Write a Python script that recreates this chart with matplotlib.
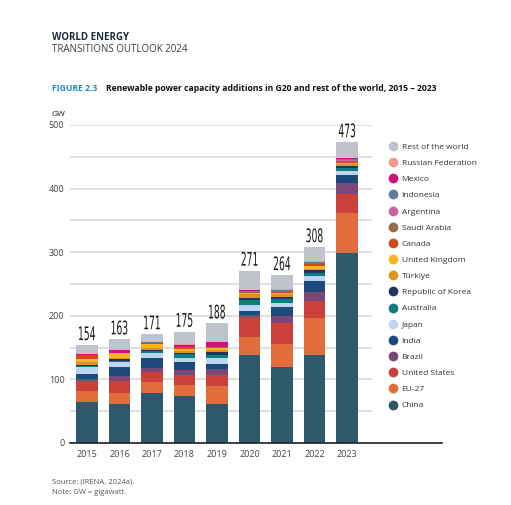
import matplotlib
matplotlib.use("Agg")
import matplotlib.pyplot as plt
from matplotlib.lines import Line2D
from matplotlib.textpath import TextPath
from matplotlib.patches import PathPatch
from matplotlib.font_manager import FontProperties
from matplotlib.transforms import Affine2D, ScaledTranslation
import numpy as np

plt.rcParams['font.family'] = ['Open Sans', 'DejaVu Sans']

# 資料 (GW)
years = ["2015", "2016", "2017", "2018", "2019", "2020", "2021", "2022", "2023"]
totals = [154, 163, 171, 175, 188, 271, 264, 308, 473]

china = [64, 62, 79, 74, 62, 138, 120, 138, 298]
eu27 = [17, 16, 17, 17, 28, 28, 36, 58, 64]
united_states = [16, 20, 16, 16, 17, 32, 33, 28, 30]
brazil = [4, 8, 6, 8, 9, 4, 11, 14, 17]
india = [8, 13, 16, 13, 9, 5, 14, 17, 13]
japan = [10, 9, 8, 6, 8, 10, 6, 8, 6]
australia = [2, 1, 2, 6, 5, 8, 7, 5, 4]
korea = [1.5, 3, 3, 1, 5, 3, 3, 4, 4]
turkiye = [5, 1, 3, 3, 3, 6, 4, 2, 2]
united_kingdom = [4, 8, 5, 4, 3, 1.5, 2, 5, 2]
canada = [7, 1, 2, 2, 1, 1, 2, 2, 2]
saudi_arabia = [0, 0, 1, 0.5, 0.5, 0.5, 0.5, 2, 2]
argentina = [0, 0, 0, 0.5, 0.5, 1, 1, 0.5, 1]
indonesia = [0, 0, 0.5, 0.5, 0.5, 0.5, 0.5, 1, 2]
mexico = [1.5, 4, 0.5, 3, 7, 1.5, 1, 0.5, 1]
russia = [0.5, 0.5, 0.5, 0.5, 1, 1, 1, 0.5, 0.5]

countries = ["China", "EU-27", "United States", "Brazil", "India", "Japan",
             "Australia", "Republic of Korea", "Türkiye", "United Kingdom",
             "Canada", "Saudi Arabia", "Argentina", "Indonesia", "Mexico",
             "Russian Federation"]
series = [china, eu27, united_states, brazil, india, japan, australia, korea,
          turkiye, united_kingdom, canada, saudi_arabia, argentina, indonesia,
          mexico, russia]
colors = ["#2e586c", "#e06d3b", "#cc403b", "#7a4878", "#1d4a7c", "#bcd5f0",
          "#0b7d83", "#1f3560", "#dc931f", "#f9b323", "#cf4b1c", "#9b6b45",
          "#c8659b", "#5f7d9f", "#d3107a", "#f29a90"]
rest_color = "#bfc3cd"

W, H = 511, 505
DPI = 100
fig = plt.figure(figsize=(W / DPI, H / DPI), dpi=DPI)
ax = fig.add_axes([70 / W, 1 - 443 / H, (372 - 70) / W, (443 - 125) / H])

x = np.arange(len(years))
bottom = np.zeros(len(years))
for name, vals, c in zip(countries, series, colors):
    ax.bar(x, vals, 0.65, bottom=bottom, color=c, label=name, zorder=3)
    bottom += np.array(vals)
rest = np.array(totals) - bottom
ax.bar(x, rest, 0.65, bottom=bottom, color=rest_color, label="Rest of the world", zorder=3)

# 總量標籤 (窄體字：水平壓縮)
fp = FontProperties(family="DejaVu Sans")
for xi, t in zip(x, totals):
    tp = TextPath((0, 0), str(t), size=12, prop=fp)
    ext = tp.get_extents()
    cx = (ext.x0 + ext.x1) / 2
    tr = (Affine2D().translate(-cx, 0).scale(0.55 * DPI / 72, 1.12 * DPI / 72)
          + ScaledTranslation(xi, t, ax.transData)
          + Affine2D().translate(0, 5))
    ax.add_patch(PathPatch(tp, transform=tr, facecolor="#1a1a1a",
                           edgecolor="none", clip_on=False, zorder=5))

ax.set_xlim(-0.523, 8.77)
ax.set_ylim(0, 500)
ax.set_yticks(range(0, 501, 100))
ax.set_yticks(range(50, 500, 100), minor=True)
ax.grid(axis="y", which="both", color="#dcdcdc", linewidth=1.3, zorder=0)
ax.set_xticks(x)
ax.set_xticklabels(years)
ax.tick_params(axis="both", which="both", length=0, labelsize=6.5, labelcolor="#444444")
ax.tick_params(axis="y", pad=4)
ax.tick_params(axis="x", pad=5)
for s in ["top", "right", "left", "bottom"]:
    ax.spines[s].set_visible(False)
ax.plot([-0.523, 10.92], [0, 0], color="#222222", linewidth=1.2, clip_on=False, zorder=4)

# 圖例
handles = [Line2D([], [], marker="o", linestyle="", markersize=6, color=rest_color)]
labels = ["Rest of the world"]
for name, c in zip(countries[::-1], colors[::-1]):
    handles.append(Line2D([], [], marker="o", linestyle="", markersize=6, color=c))
    labels.append(name)
fig.legend(handles, labels, loc="upper left", bbox_to_anchor=(389 / W, 1 - 143 / H),
           frameon=False, fontsize=6, labelcolor="#333333", handlelength=1.0,
           handletextpad=0.5, labelspacing=1.0, borderpad=0, borderaxespad=0)

# 標題
fig.text(52 / W, 1 - 38 / H, "WORLD ENERGY", fontsize=7, fontweight="bold",
         color="#1e2b3a", va="center")
fig.text(52 / W, 1 - 49 / H, "TRANSITIONS OUTLOOK 2024", fontsize=7,
         color="#333d47", va="center")
fig.text(52 / W, 1 - 89 / H, "FIGURE 2.3", fontsize=6.2, fontweight="bold",
         color="#1b8ac2", va="center")
fig.text(106 / W, 1 - 89 / H,
         "Renewable power capacity additions in G20 and rest of the world, 2015 \u2013 2023",
         fontsize=6.2, fontweight="bold", color="#111111", va="center")
fig.text(52 / W, 1 - 114 / H, "GW", fontsize=6, color="#222222", va="center")
fig.text(52 / W, 1 - 482 / H, "Source: (IRENA, 2024a).", fontsize=5.5,
         color="#555555", va="center")
fig.text(52 / W, 1 - 493 / H, "Note: GW = gigawatt.", fontsize=5.5,
         color="#555555", va="center")

fig.savefig("out.png", dpi=DPI)
